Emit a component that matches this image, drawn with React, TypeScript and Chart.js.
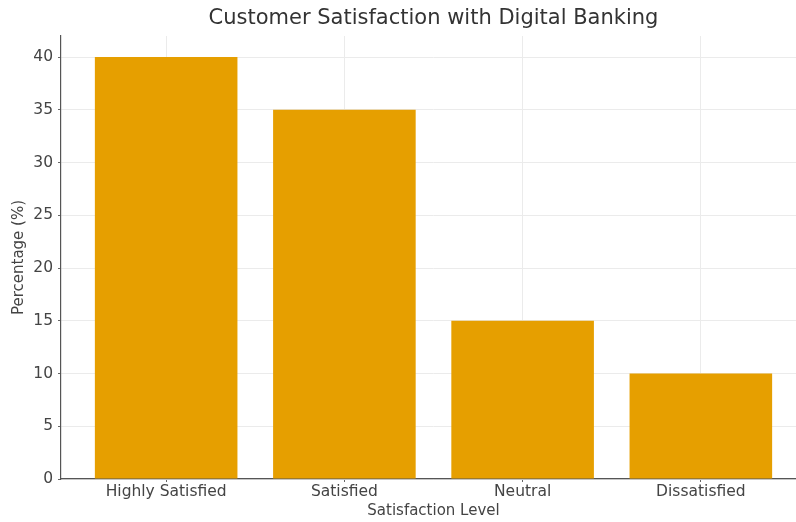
import React, { useEffect, useRef } from "react";
import { Chart, registerables } from "chart.js";

Chart.register(...registerables);

const categories = ["Highly Satisfied", "Satisfied", "Neutral", "Dissatisfied"];
const percentages = [40, 35, 15, 10];
const yTicks = [0, 5, 10, 15, 20, 25, 30, 35, 40];

const FONT = "'DejaVu Sans', sans-serif";

const titlePlugin = {
  id: "centerTitle",
  afterDraw(chart: any) {
    const { ctx, chartArea } = chart;
    ctx.save();
    ctx.font = `21px ${FONT}`;
    ctx.fillStyle = "#333333";
    ctx.textAlign = "center";
    ctx.textBaseline = "middle";
    ctx.fillText("Customer Satisfaction with Digital Banking", (chartArea.left + chartArea.right) / 2, 19);
    ctx.restore();
  },
};

export default function App() {
  const ref = useRef<HTMLCanvasElement>(null);
  useEffect(() => {
    const chart = new Chart(ref.current!, {
      type: "bar",
      data: {
        datasets: [
          {
            data: percentages.map((v, i) => ({ x: i, y: v })),
            backgroundColor: "#E69F00",
            borderWidth: 0,
            barPercentage: 0.8,
            categoryPercentage: 1,
          },
        ],
      },
      options: {
        animation: false,
        responsive: true,
        maintainAspectRatio: false,
        layout: { padding: { top: 36, right: 6, left: 0, bottom: 0 } },
        plugins: { legend: { display: false }, tooltip: { enabled: false }, title: { display: false } },
        scales: {
          x: {
            type: "linear",
            offset: false,
            min: -0.59,
            max: 3.59,
            afterBuildTicks: (s: any) => {
              s.ticks = categories.map((_, i) => ({ value: i }));
            },
            afterFit: (s: any) => {
              s.height = 43;
            },
            ticks: {
              callback: (v: any) => categories[v] ?? "",
              font: { family: FONT, size: 15.5 },
              color: "#444444",
              padding: 1,
              maxRotation: 0,
              autoSkip: false,
            },
            grid: { offset: false, color: "#ebebeb", lineWidth: 1, drawTicks: true, tickLength: 3, tickColor: "#666666" },
            border: { display: true, color: "#555555", width: 1.2 },
            title: {
              display: true,
              text: "Satisfaction Level",
              font: { family: FONT, size: 15 },
              color: "#444444",
              padding: { top: 0, bottom: 2 },
            },
          },
          y: {
            type: "linear",
            min: 0,
            max: 42,
            afterBuildTicks: (s: any) => {
              s.ticks = yTicks.map((v) => ({ value: v }));
            },
            afterFit: (s: any) => {
              s.width = 61;
            },
            ticks: {
              font: { family: FONT, size: 15.5 },
              color: "#444444",
              padding: 5,
            },
            grid: { color: "#ebebeb", lineWidth: 1, drawTicks: true, tickLength: 3, tickColor: "#666666" },
            border: { display: true, color: "#555555", width: 1.2 },
            title: {
              display: true,
              text: "Percentage (%)",
              font: { family: FONT, size: 15 },
              color: "#444444",
              padding: { top: 10, bottom: 0 },
            },
          },
        },
      },
      plugins: [titlePlugin],
    } as any);
    return () => chart.destroy();
  }, []);
  return (
    <div style={{ position: "fixed", left: 0, top: 0, width: 796, height: 522, overflow: "hidden", background: "#fff" }}>
      <div style={{ position: "absolute", left: 0, top: 0, width: 812, height: 522 }}>
        <canvas ref={ref} />
      </div>
    </div>
  );
}
